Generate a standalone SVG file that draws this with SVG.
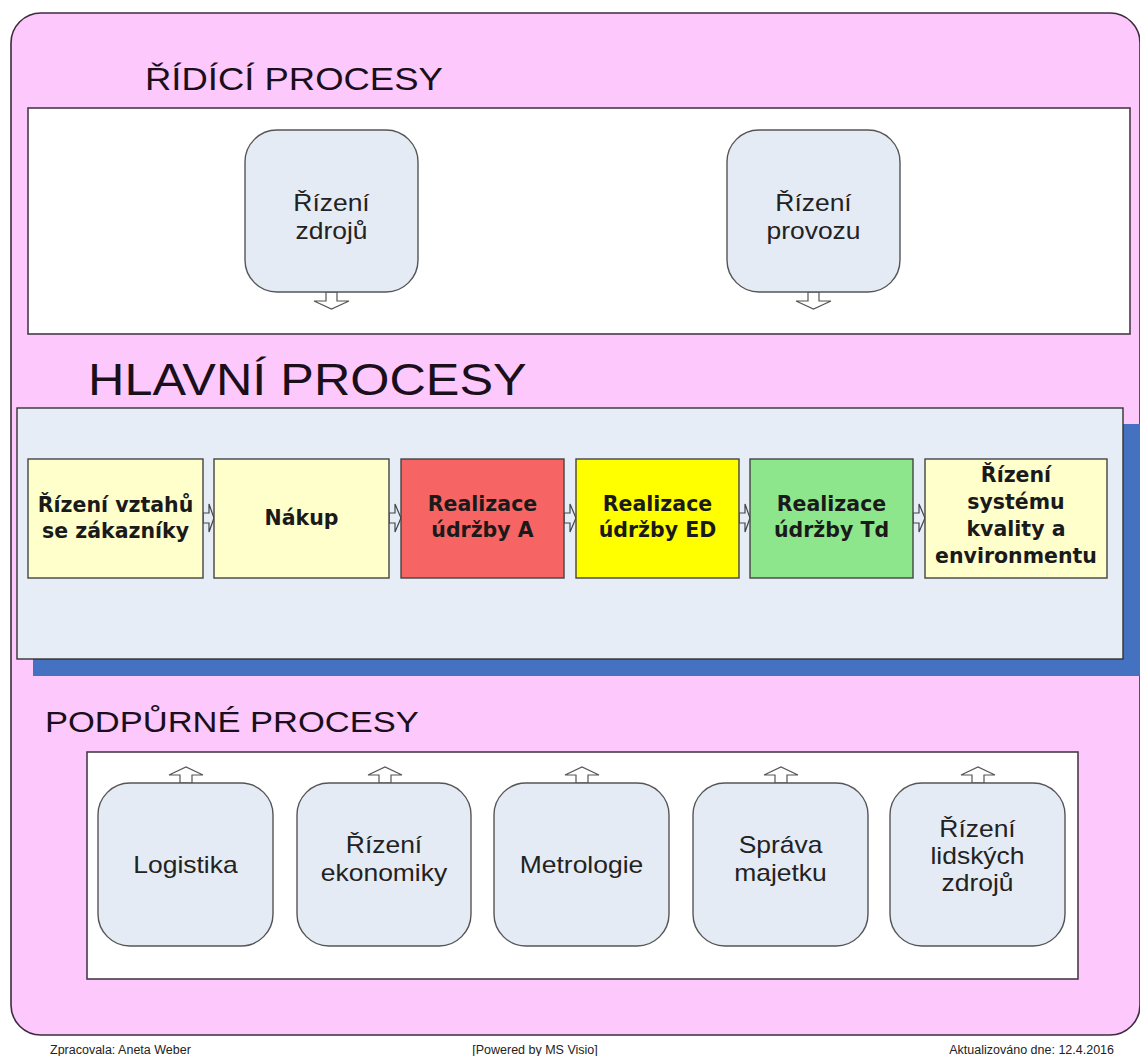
<svg xmlns="http://www.w3.org/2000/svg" width="1140" height="1056" viewBox="0 0 1140 1056">
  <defs>
    <style>
      .frame { fill: #fdc9fd; stroke: #3e2b3e; stroke-width: 1.6; }
      .panel { fill: #ffffff; stroke: #4a3a4a; stroke-width: 1.6; }
      .ctl { fill: #e5ebf5; stroke: #555555; stroke-width: 1.4; }
      .main { fill: #e6edf7; stroke: #333333; stroke-width: 1.4; }
      .shadow { fill: #4472c0; }
      .proc { stroke: #444444; stroke-width: 1.4; }
      .pale { fill: #ffffcc; }
      .red { fill: #f66464; }
      .yellow { fill: #ffff00; }
      .green { fill: #8ee68c; }
      .arrow { fill: #ffffff; stroke: #555555; stroke-width: 1.2; }
      .flow { fill: #e6edf7; stroke: #444444; stroke-width: 1.2; }
      .title { font-family: "Liberation Sans", Arial, sans-serif; fill: #1a0f1a; }
      .lbl { font-family: "Liberation Sans", Arial, sans-serif; font-size: 23px; fill: #222222; text-anchor: middle; }
      .pl { font-family: "DejaVu Sans", Verdana, sans-serif; font-weight: bold; font-size: 20.5px; fill: #1a1a1a; text-anchor: middle; }
      .foot { font-family: "Liberation Sans", Arial, sans-serif; font-size: 12.5px; fill: #222222; }
    </style>
  </defs>

  <!-- outer frame -->
  <rect class="frame" x="11" y="13" width="1129" height="1022" rx="30"/>

  <!-- control processes -->
  <text class="title" font-size="32" transform="translate(145 90) scale(1.14 1)">ŘÍDÍCÍ PROCESY</text>
  <rect class="panel" x="28" y="108" width="1102" height="226"/>

  <!-- main processes -->
  <text class="title" font-size="45" transform="translate(88 395) scale(1.12 1)">HLAVNÍ PROCESY</text>
  <rect class="shadow" x="33" y="424" width="1107" height="252"/>
  <rect class="main" x="17" y="408" width="1106" height="251"/>

  <!-- support processes -->
  <text class="title" font-size="30" transform="translate(45 732) scale(1.15 1)">PODPŮRNÉ PROCESY</text>
  <rect class="panel" x="87" y="752" width="991" height="227"/>

  <!-- connectors -->
  <g id="connectors">
    <!-- down arrows from control nodes -->
    <path class="arrow" d="M326,292 L337,292 L337,301 L349,301 L331.5,309 L314,301 L326,301 Z"/>
    <path class="arrow" d="M808,292 L819,292 L819,301 L831,301 L813.5,309 L796,301 L808,301 Z"/>
    <!-- flow between main processes -->
    <path class="flow" d="M203,513 L209,513 L209,504 L214,518 L209,532 L209,523 L203,523 Z"/>
    <path class="flow" d="M389,513 L395,513 L395,504 L401,518 L395,532 L395,523 L389,523 Z"/>
    <path class="flow" d="M564,513 L570,513 L570,504 L576,518 L570,532 L570,523 L564,523 Z"/>
    <path class="flow" d="M739,513 L745,513 L745,504 L750,518 L745,532 L745,523 L739,523 Z"/>
    <path class="flow" d="M913,513 L919,513 L919,504 L925,518 L919,532 L919,523 L913,523 Z"/>
    <!-- up arrows from support nodes -->
    <path class="arrow" d="M180,783 L192,783 L192,775 L203,775 L186,767 L169,775 L180,775 Z"/>
    <path class="arrow" d="M379,783 L391,783 L391,775 L402,775 L385,767 L368,775 L379,775 Z"/>
    <path class="arrow" d="M576,783 L588,783 L588,775 L599,775 L582,767 L565,775 L576,775 Z"/>
    <path class="arrow" d="M775,783 L787,783 L787,775 L798,775 L781,767 L764,775 L775,775 Z"/>
    <path class="arrow" d="M972,783 L984,783 L984,775 L995,775 L978,767 L961,775 L972,775 Z"/>
  </g>

  <!-- control nodes -->
  <g id="ctl-zdroje">
    <rect class="ctl" x="245" y="130" width="173" height="162" rx="32"/>
    <text class="lbl" transform="translate(331.5 0) scale(1.15 1)" x="0" y="211">Řízení<tspan x="0" dy="28">zdrojů</tspan></text>
  </g>
  <g id="ctl-provoz">
    <rect class="ctl" x="727" y="130" width="173" height="162" rx="32"/>
    <text class="lbl" transform="translate(813.5 0) scale(1.15 1)" x="0" y="211">Řízení<tspan x="0" dy="28">provozu</tspan></text>
  </g>

  <!-- main process nodes -->
  <g id="p-zakaznici">
    <rect class="proc pale" x="28" y="459" width="175" height="119"/>
    <text class="pl" x="115.5" y="512">Řízení vztahů<tspan x="115.5" dy="26">se zákazníky</tspan></text>
  </g>
  <g id="p-nakup">
    <rect class="proc pale" x="214" y="459" width="175" height="119"/>
    <text class="pl" x="301.5" y="525">Nákup</text>
  </g>
  <g id="p-udrzba-a">
    <rect class="proc red" x="401" y="459" width="163" height="119"/>
    <text class="pl" x="482.5" y="511">Realizace<tspan x="482.5" dy="26">údržby A</tspan></text>
  </g>
  <g id="p-udrzba-ed">
    <rect class="proc yellow" x="576" y="459" width="163" height="119"/>
    <text class="pl" x="657.5" y="511">Realizace<tspan x="657.5" dy="26">údržby ED</tspan></text>
  </g>
  <g id="p-udrzba-td">
    <rect class="proc green" x="750" y="459" width="163" height="119"/>
    <text class="pl" x="831.5" y="511">Realizace<tspan x="831.5" dy="26">údržby Td</tspan></text>
  </g>
  <g id="p-kvalita">
    <rect class="proc pale" x="925" y="459" width="182" height="119"/>
    <text class="pl" x="1016" y="482">Řízení<tspan x="1016" dy="27">systému</tspan><tspan x="1016" dy="27">kvality a</tspan><tspan x="1016" dy="27">environmentu</tspan></text>
  </g>

  <!-- support nodes -->
  <g id="s-logistika">
    <rect class="ctl" x="98" y="783" width="175" height="163" rx="32"/>
    <text class="lbl" transform="translate(185.5 0) scale(1.15 1)" x="0" y="873">Logistika</text>
  </g>
  <g id="s-ekonomika">
    <rect class="ctl" x="297" y="783" width="174" height="163" rx="32"/>
    <text class="lbl" transform="translate(384 0) scale(1.15 1)" x="0" y="853">Řízení<tspan x="0" dy="28">ekonomiky</tspan></text>
  </g>
  <g id="s-metrologie">
    <rect class="ctl" x="494" y="783" width="175" height="163" rx="32"/>
    <text class="lbl" transform="translate(581.5 0) scale(1.15 1)" x="0" y="873">Metrologie</text>
  </g>
  <g id="s-majetek">
    <rect class="ctl" x="693" y="783" width="175" height="163" rx="32"/>
    <text class="lbl" transform="translate(780.5 0) scale(1.15 1)" x="0" y="853">Správa<tspan x="0" dy="28">majetku</tspan></text>
  </g>
  <g id="s-lidske-zdroje">
    <rect class="ctl" x="890" y="783" width="175" height="163" rx="32"/>
    <text class="lbl" transform="translate(977.5 0) scale(1.15 1)" x="0" y="837">Řízení<tspan x="0" dy="27">lidských</tspan><tspan x="0" dy="27">zdrojů</tspan></text>
  </g>

  <!-- footer -->
  <text class="foot" x="50" y="1054">Zpracovala: Aneta Weber</text>
  <text class="foot" x="535" y="1054" text-anchor="middle">[Powered by MS Visio]</text>
  <text class="foot" x="1114" y="1054" text-anchor="end">Aktualizováno dne: 12.4.2016</text>
</svg>
